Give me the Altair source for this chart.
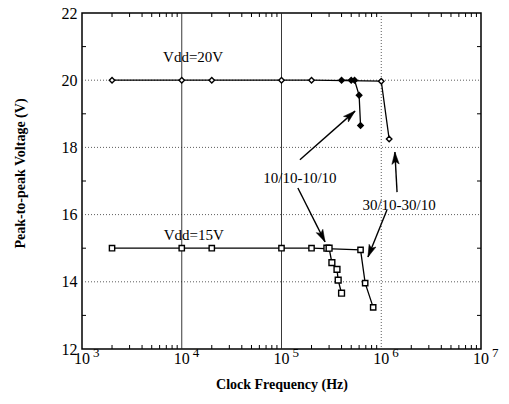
import math
import altair as alt
import pandas as pd

W, H = 399, 336
FONT = "Liberation Serif"

# ---- data ----
# Vdd = 20 V, 30/10-30/10 (open diamonds)
f20_a = [2e3, 1e4, 2e4, 1e5, 2e5, 1e6, 1.2e6]
v20_a = [20, 20, 20, 20, 20, 19.97, 18.25]
# Vdd = 20 V, 10/10-10/10 (filled diamonds)
f20_b = [4e5, 5.0e5, 5.4e5, 6.0e5, 6.2e5]
v20_b = [20, 20, 20, 19.55, 18.65]
# Vdd = 15 V, 30/10-30/10 (open squares)
f15_a = [2e3, 1e4, 2e4, 1e5, 2e5, 6.2e5, 6.9e5, 8.3e5]
v15_a = [15, 15, 15, 15, 15, 14.95, 13.96, 13.24]
# Vdd = 15 V, 10/10-10/10 (open squares)
f15_b = [2.85e5, 3.0e5, 3.2e5, 3.6e5, 3.7e5, 4.0e5]
v15_b = [15, 15, 14.57, 14.37, 14.05, 13.66]

# annotations
note_text = ["Vdd=20V", "Vdd=15V", "10/10-10/10", "30/10-30/10"]
note_f = [1.3e4, 1.32e4, 1.53e5, 1.51e6]
note_v = [20.7, 15.4, 17.09, 16.29]

arrow_tail_f = [1.53e5, 1.46e5, 1.44e6, 1.14e6]
arrow_tail_v = [17.63, 16.79, 16.67, 16.14]
arrow_tip_f = [5.46e5, 2.73e5, 1.37e6, 7.36e5]
arrow_tip_v = [19.08, 15.19, 17.86, 14.74]

# axis ticks
decades = [1e3, 1e4, 1e5, 1e6, 1e7]
decade_exp = ["3", "4", "5", "6", "7"]
minor_x = [k * 10 ** e for e in range(3, 7) for k in range(2, 10)]
y_ticks = [12, 14, 16, 18, 20, 22]
y_minor = [13, 15, 17, 19, 21]
y_grid = [14, 16, 18, 20]
x_grid_solid = [1e4, 1e5]
x_grid_dotted = [1e6]

xscale = alt.Scale(type="log", domain=[1e3, 1e7])
yscale = alt.Scale(domain=[12, 22])

xaxis = alt.Axis(values=decades, labels=False, ticks=False, domain=False, grid=False,
                 title="Clock Frequency (Hz)", titleFont=FONT, titleFontSize=14,
                 titleFontWeight="bold", titleColor="black", titleBaseline="middle",
                 titleY=35)
yaxis = alt.Axis(values=y_ticks, ticks=False, domain=False, grid=False,
                 labelFont=FONT, labelFontSize=16, labelColor="black", labelPadding=5,
                 title="Peak-to-peak Voltage (V)", titleFont=FONT, titleFontSize=14,
                 titleFontWeight="bold", titleColor="black", titleBaseline="middle",
                 titleX=-62, titleY=160)


def X(field="f"):
    return alt.X(f"{field}:Q", scale=xscale, axis=xaxis)


def Y(field="v"):
    return alt.Y(f"{field}:Q", scale=yscale, axis=yaxis)


# ---- grid ----
hgrid = alt.Chart(pd.DataFrame({"v": y_grid})).mark_rule(
    color="#333", strokeWidth=0.8, strokeDash=[1, 2]).encode(
    y=Y(), x=alt.value(0), x2=alt.value(W))
vgrid_s = alt.Chart(pd.DataFrame({"f": x_grid_solid})).mark_rule(
    color="#222", strokeWidth=0.9).encode(x=X(), y=alt.value(0), y2=alt.value(H))
vgrid_d = alt.Chart(pd.DataFrame({"f": x_grid_dotted})).mark_rule(
    color="#333", strokeWidth=0.8, strokeDash=[1, 2]).encode(x=X(), y=alt.value(0), y2=alt.value(H))

# ---- minor ticks ----
mx = pd.DataFrame({"f": minor_x})
tick_b = alt.Chart(mx).mark_rule(color="black", strokeWidth=1).encode(
    x=X(), y=alt.value(H), y2=alt.value(H - 4))
tick_t = alt.Chart(mx).mark_rule(color="black", strokeWidth=1).encode(
    x=X(), y=alt.value(0), y2=alt.value(4))
my = pd.DataFrame({"v": y_minor})
tick_l = alt.Chart(my).mark_rule(color="black", strokeWidth=1).encode(
    y=Y(), x=alt.value(0), x2=alt.value(4))
tick_r = alt.Chart(my).mark_rule(color="black", strokeWidth=1).encode(
    y=Y(), x=alt.value(W - 4), x2=alt.value(W))

# ---- x tick labels 10^n ----
dec_df = pd.DataFrame({"f": decades, "e": decade_exp, "b": ["10"] * len(decades)})
lab_base = alt.Chart(dec_df).mark_text(font=FONT, fontSize=16, color="black",
                                       baseline="middle", align="center").encode(
    x=X(), y=alt.value(H + 10), text="b:N")
lab_exp = alt.Chart(dec_df).mark_text(font=FONT, fontSize=13, color="black",
                                      baseline="middle", align="left", dx=11).encode(
    x=X(), y=alt.value(H + 4), text="e:N")


# ---- series ----
def series(f, v, shape, filled, size):
    df = pd.DataFrame({"f": f, "v": v})
    line = alt.Chart(df).mark_line(color="black", strokeWidth=1.3).encode(x=X(), y=Y())
    pts = alt.Chart(df).mark_point(shape=shape, filled=True, size=size,
                                   fill="black" if filled else "white",
                                   stroke="black", strokeWidth=1.4, opacity=1).encode(x=X(), y=Y())
    return line, pts


l20a, p20a = series(f20_a, v20_a, "diamond", False, 30)
l20b, p20b = series(f20_b, v20_b, "diamond", True, 30)
l15a, p15a = series(f15_a, v15_a, "square", False, 28)
l15b, p15b = series(f15_b, v15_b, "square", False, 34)

# ---- annotations ----
notes = alt.Chart(pd.DataFrame({"f": note_f, "v": note_v, "t": note_text})).mark_text(
    font=FONT, fontSize=15, color="black", baseline="middle", align="center").encode(
    x=X(), y=Y(), text="t:N")


def to_px(f, v):
    return W * (math.log10(f) - 3) / 4, H * (22 - v) / 10


def from_px(px, py):
    return 10 ** (3 + 4 * px / W), 22 - 10 * py / H


rows = []
for tf, tv, hf, hv in zip(arrow_tail_f, arrow_tail_v, arrow_tip_f, arrow_tip_v):
    x0, y0 = to_px(tf, tv)
    x1, y1 = to_px(hf, hv)
    dx, dy = x1 - x0, y1 - y0
    L = math.hypot(dx, dy)
    ux, uy = dx / L, dy / L
    cf, cv = from_px(x1 - 6 * ux, y1 - 6 * uy)
    ang = math.degrees(math.atan2(dx, -dy)) % 360
    rows.append({"f": tf, "v": tv, "f2": hf, "v2": hv, "hf": cf, "hv": cv, "a": ang})
arr = pd.DataFrame(rows)

arrow_lines = alt.Chart(arr).mark_rule(color="black", strokeWidth=1.4).encode(
    x=X(), y=Y(), x2="f2:Q", y2="v2:Q")
arrow_heads = alt.Chart(arr).mark_point(
    shape="M0,-1L0.6,1L0,0.55L-0.6,1Z", filled=True, fill="black", stroke="black",
    strokeWidth=0.5, size=150, opacity=1).encode(
    x=X("hf"), y=Y("hv"), angle=alt.Angle("a:Q", scale=None))

chart = alt.layer(
    hgrid, vgrid_s, vgrid_d, tick_b, tick_t, tick_l, tick_r,
    l20a, l20b, l15a, l15b, p20a, p20b, p15a, p15b,
    arrow_lines, arrow_heads, notes, lab_base, lab_exp,
).properties(
    width=W, height=H,
    autosize=alt.AutoSizeParams(type="none"),
    padding={"left": 82, "top": 13, "right": 28, "bottom": 55},
    background="white",
).configure_view(stroke="black", strokeWidth=1.5)

chart.save("out.html", embed_options={"renderer": "svg", "actions": False})
